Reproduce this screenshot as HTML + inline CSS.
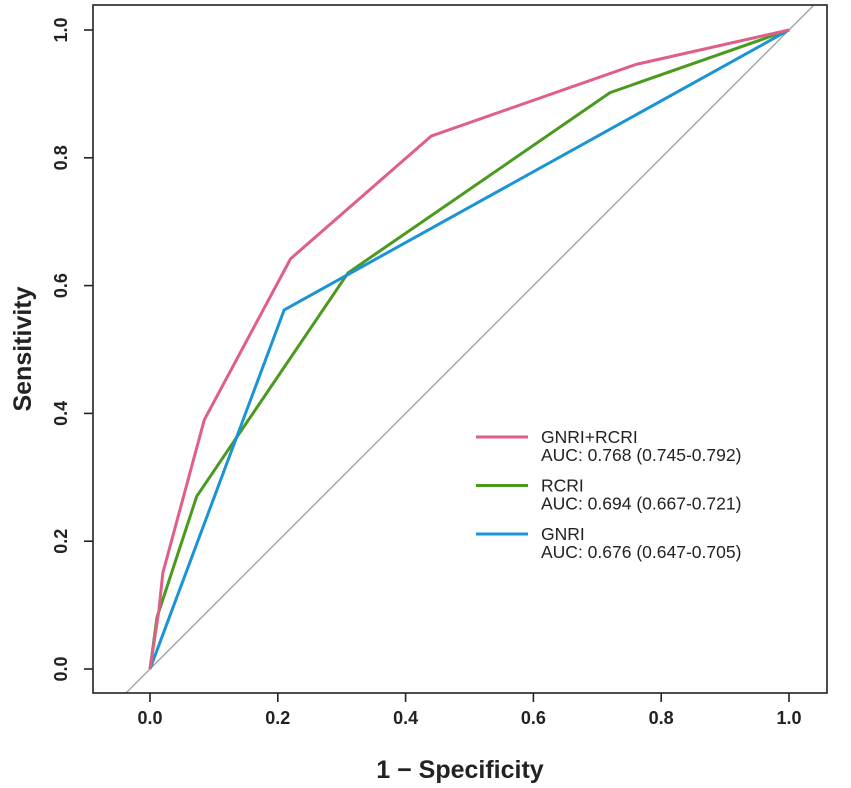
<!DOCTYPE html>
<html><head><meta charset="utf-8"><style>body{margin:0;background:#fff}svg{display:block;font-family:"Liberation Sans",Arial,sans-serif}</style></head>
<body>
<svg width="851" height="788">
<g id="plot"></g>
</svg>
<script>
const xTicks=[0,0.2,0.4,0.6,0.8,1.0];
const yTicks=[0,0.2,0.4,0.6,0.8,1.0];
const seriesNames=["GNRI+RCRI","RCRI","GNRI"];
const aucLabels=["AUC: 0.768 (0.745-0.792)","AUC: 0.694 (0.667-0.721)","AUC: 0.676 (0.647-0.705)"];
const fprGR=[0,0.014,0.02,0.085,0.22,0.44,0.76,1];
const tprGR=[0,0.092,0.15,0.39,0.642,0.834,0.946,1];
const fprR=[0,0.011,0.073,0.31,0.72,1];
const tprR=[0,0.081,0.27,0.62,0.902,1];
const fprG=[0,0.21,1];
const tprG=[0,0.562,1];
const colors=["#df5f86","#4a9a1e","#1b94d6"];
const NS="http://www.w3.org/2000/svg";
const g=document.getElementById('plot');
const X=v=>150+v*639, Y=v=>669-v*639;
function mk(t,a,txt){const e=document.createElementNS(NS,t);for(const k in a)e.setAttribute(k,a[k]);if(txt!==undefined)e.textContent=txt;g.appendChild(e);return e;}
const clip=document.createElementNS(NS,'clipPath');clip.setAttribute('id','c');
const cr=document.createElementNS(NS,'rect');cr.setAttribute('x',93);cr.setAttribute('y',5);cr.setAttribute('width',734);cr.setAttribute('height',688);clip.appendChild(cr);g.appendChild(clip);
let d=mk('line',{x1:X(-0.1),y1:Y(-0.1),x2:X(1.1),y2:Y(1.1),stroke:'#999','stroke-width':1.3,'clip-path':'url(#c)'});


const sets=[[fprR,tprR,1],[fprG,tprG,2],[fprGR,tprGR,0]];
sets.forEach(s=>{const p=mk('polyline',{points:s[0].map((v,i)=>X(v)+','+Y(s[1][i])).join(' '),fill:'none',stroke:colors[s[2]],'stroke-width':3,'stroke-linejoin':'round'});

});
let b=mk('rect',{x:93,y:5,width:734,height:688,fill:'none',stroke:'#222','stroke-width':1.6});


xTicks.forEach(v=>{mk('line',{x1:X(v),y1:693,x2:X(v),y2:702,stroke:'#222','stroke-width':1.6});
const t=mk('text',{x:X(v),y:724,'text-anchor':'middle','font-size':18,'font-weight':'bold',fill:'#222'},v.toFixed(1));

});
yTicks.forEach(v=>{mk('line',{x1:84,y1:Y(v),x2:93,y2:Y(v),stroke:'#222','stroke-width':1.6});
const t=mk('text',{x:0,y:0,transform:`translate(67,${Y(v)}) rotate(-90)`,'text-anchor':'middle','font-size':18,'font-weight':'bold',fill:'#222'},v.toFixed(1));

});
let xt=mk('text',{x:460,y:778,'text-anchor':'middle','font-size':25,'font-weight':'bold',fill:'#222'},'1 − Specificity');


let yt=mk('text',{x:0,y:0,transform:'translate(31,349) rotate(-90)','text-anchor':'middle','font-size':25,'font-weight':'bold',fill:'#222'},'Sensitivity');


seriesNames.forEach((n,i)=>{const y0=437+i*48.5;
const l=mk('line',{x1:476,y1:y0,x2:528,y2:y0,stroke:colors[i],'stroke-width':3});


const t1=mk('text',{x:541,y:y0+6,'font-size':17.5,fill:'#222'},n);


const t2=mk('text',{x:541,y:y0+24,'font-size':17.5,fill:'#222'},aucLabels[i]);

});
</script>
</body></html>
